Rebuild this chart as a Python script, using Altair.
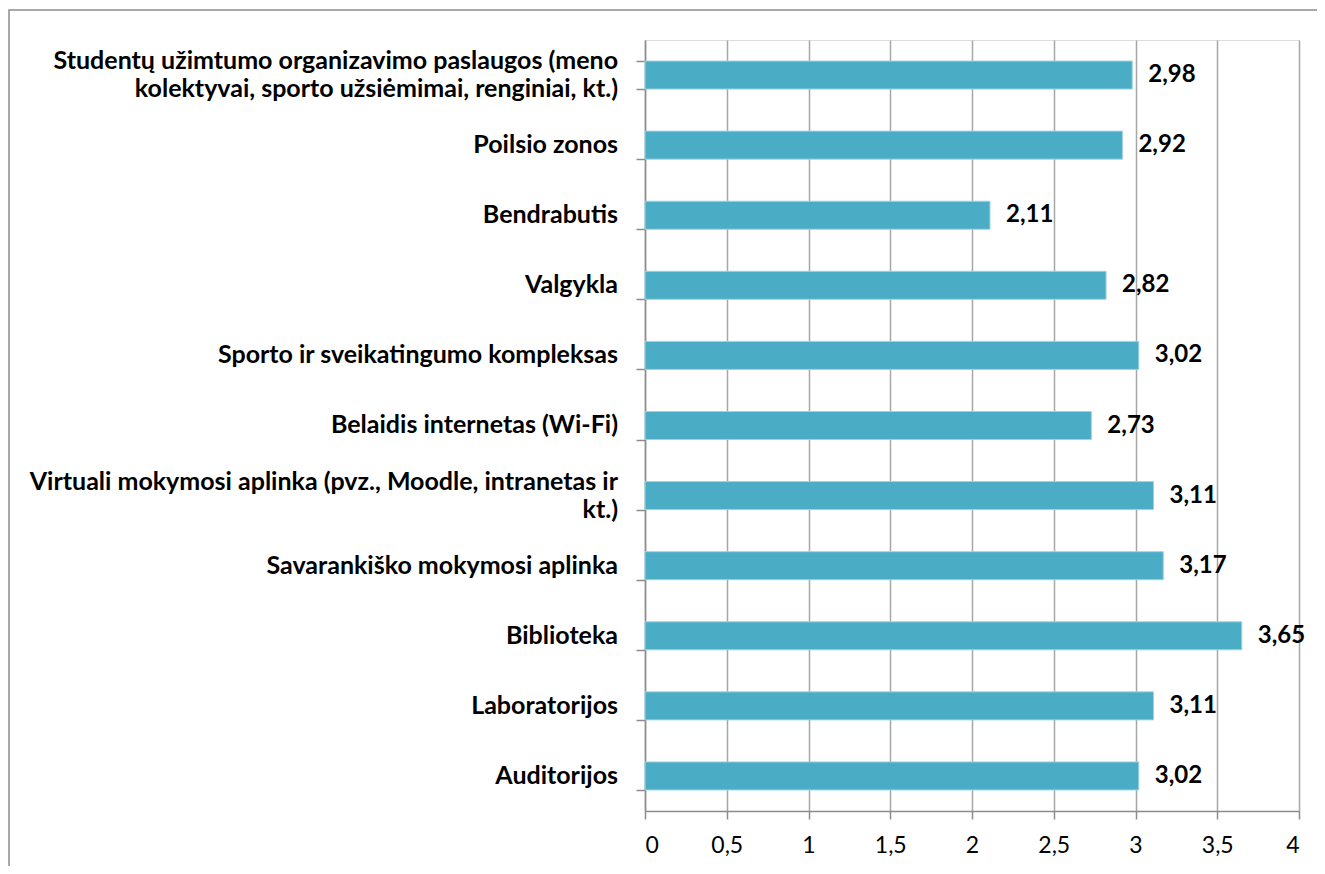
import altair as alt
import pandas as pd

categories = [
    "Studentų užimtumo organizavimo paslaugos (meno|kolektyvai, sporto užsiėmimai, renginiai, kt.)",
    "Poilsio zonos",
    "Bendrabutis",
    "Valgykla",
    "Sporto ir sveikatingumo kompleksas",
    "Belaidis internetas (Wi-Fi)",
    "Virtuali mokymosi aplinka (pvz., Moodle, intranetas ir|kt.)",
    "Savarankiško mokymosi aplinka",
    "Biblioteka",
    "Laboratorijos",
    "Auditorijos",
]
values = [2.98, 2.92, 2.11, 2.82, 3.02, 2.73, 3.11, 3.17, 3.65, 3.11, 3.02]
x_ticks = [0, 0.5, 1, 1.5, 2, 2.5, 3, 3.5, 4]

df = pd.DataFrame({"cat": categories, "v": values})

FONT = "Lato"
W, H = 654, 771
LINE_H = 28

y_scale = alt.Scale(paddingInner=0.6, paddingOuter=0.3)

y_enc = alt.Y(
    "cat:N",
    sort=None,
    title=None,
    scale=y_scale,
    axis=alt.Axis(
        labels=False,
        tickBand="extent",
        tickSize=9,
        tickColor="#8c8c8c",
        tickWidth=1.5,
        domainColor="#8c8c8c",
        domainWidth=1.5,
        grid=False,
    ),
)

x_enc = alt.X(
    "v:Q",
    title=None,
    scale=alt.Scale(domain=[0, 4], nice=False),
    axis=alt.Axis(
        values=x_ticks,
        labelExpr="replace(format(datum.value, '~g'), '.', ',')",
        labelFont=FONT,
        labelFontSize=23,
        labelColor="#000000",
        labelPadding=15,
        tickSize=8,
        tickColor="#8c8c8c",
        tickWidth=1.5,
        domainColor="#8c8c8c",
        domainWidth=1.5,
        grid=True,
        gridColor="#a6a6a6",
        gridWidth=1.5,
    ),
)

bars = alt.Chart(df).mark_bar(color="#4BACC6", stroke="#9fd3e2", strokeWidth=1).encode(
    y=y_enc, x=x_enc
)

labels = (
    alt.Chart(df)
    .transform_calculate(lbl="replace(format(datum.v, '.2f'), '.', ',')")
    .mark_text(align="left", baseline="middle", dx=16, font=FONT, fontSize=24, fontWeight="bold", color="#000000")
    .encode(y=alt.Y("cat:N", sort=None), x="v:Q", text="lbl:N")
)

# yOffset places text relative to band start; centre the block of lines on the band
cat_labels = (
    alt.Chart(df)
    .transform_calculate(off=f"indexof(datum.cat, '|') >= 0 ? 0 : {LINE_H / 2}")
    .mark_text(align="right", baseline="middle", font=FONT, fontSize=25, fontWeight="bold",
               color="#000000", lineHeight=LINE_H, lineBreak="|")
    .encode(
        y=alt.Y("cat:N", sort=None),
        yOffset=alt.YOffset("off:Q", scale=None),
        x=alt.value(-27),
        text="cat:N",
    )
)

frame = (
    alt.Chart(pd.DataFrame({"a": [0]}))
    .mark_rect(fill=None, stroke="#8c8c8c", strokeWidth=1.5)
    .encode(
        x=alt.value(-636),
        x2=alt.value(720),
        y=alt.value(-30),
        y2=alt.value(900),
    )
)

chart = (
    alt.layer(frame, bars, labels, cat_labels)
    .properties(
        width=W,
        height=H,
        autosize=alt.AutoSizeParams(type="none"),
        padding={"left": 637, "top": 32, "right": 18, "bottom": 55},
    )
    .configure_view(stroke=None)
    .configure(background="white")
)

chart.save("out.html", embed_options={"renderer": "svg", "actions": False})
